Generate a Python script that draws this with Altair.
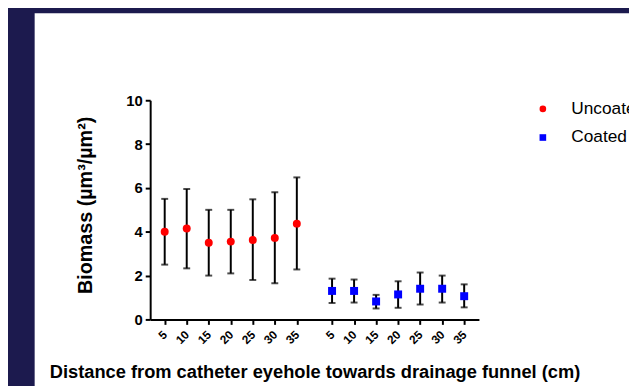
import altair as alt
import pandas as pd

distances = [5, 10, 15, 20, 25, 30, 35]
groups = ["Uncoated", "Coated"]
uncoated_mean = [4.0, 4.15, 3.5, 3.55, 3.62, 3.72, 4.37]
uncoated_upper = [5.5, 5.95, 5.0, 5.0, 5.48, 5.8, 6.48]
uncoated_lower = [2.5, 2.33, 2.0, 2.1, 1.8, 1.65, 2.28]
coated_mean = [1.3, 1.3, 0.82, 1.14, 1.4, 1.4, 1.06]
coated_upper = [1.86, 1.82, 1.12, 1.74, 2.14, 2.0, 1.6]
coated_lower = [0.75, 0.77, 0.5, 0.53, 0.68, 0.77, 0.55]

GROUP_OFFSET = 7.6
rows = []
for gi, (g, m, up, lo) in enumerate([
    ("Uncoated", uncoated_mean, uncoated_upper, uncoated_lower),
    ("Coated", coated_mean, coated_upper, coated_lower),
]):
    for i, d in enumerate(distances):
        rows.append({"group": g, "distance": d, "pos": i + gi * GROUP_OFFSET,
                     "mean": m[i], "upper": up[i], "lower": lo[i]})
df = pd.DataFrame(rows)
positions = list(df["pos"])

FONT = "Liberation Sans"
xscale = alt.Scale(domain=[-0.66, 14.27], nice=False, zero=False)
yscale = alt.Scale(domain=[0, 10], nice=False)

xaxis = alt.Axis(
    values=positions,
    labelExpr="format(datum.value < 7 ? (round(datum.value) + 1) * 5 : (round(datum.value - 7.6) + 1) * 5, 'd')",
    labelAngle=-45, labelAlign="right", labelBaseline="middle",
    labelFontSize=12, labelFontWeight="bold", labelPadding=8,
    labelOverlap=False, labelBound=False, labelFlush=False,
    tickSize=5, tickWidth=2, tickColor="black", domainWidth=2, domainColor="black",
    grid=False, labelColor="black", zindex=1,
    title="Distance from catheter eyehole towards drainage funnel (cm)",
    titleFontSize=18.5, titleFontWeight="bold", titleColor="black",
    titleY=59, titleBaseline="alphabetic",
)
yaxis = alt.Axis(
    values=[0, 2, 4, 6, 8, 10], labelFontSize=15, labelFontWeight="bold",
    labelPadding=3, tickSize=5, tickWidth=2, tickColor="black",
    domainWidth=2, domainColor="black", grid=False, labelColor="black", zindex=1,
    title="Biomass (µm³/µm²)", titleFontSize=20, titleFontWeight="bold",
    titleColor="black", titleX=-65, titleY=106, titleBaseline="middle",
    titleAlign="center", titleAngle=-90,
)

X = alt.X("pos:Q", scale=xscale, axis=xaxis)

base = alt.Chart(df)

panel = alt.Chart(pd.DataFrame({"a": [0]})).mark_rect(color="white").encode(
    x=alt.value(-117), x2=alt.value(500), y=alt.value(-88), y2=alt.value(300)
)

bars = base.mark_rule(color="black", strokeWidth=2).encode(
    x=X,
    y=alt.Y("lower:Q", scale=yscale, axis=yaxis),
    y2="upper:Q",
)
caps_top = base.mark_tick(color="black", orient="horizontal", size=7, thickness=2).encode(
    x=X, y=alt.Y("upper:Q", scale=yscale, axis=yaxis)
)
caps_bot = base.mark_tick(color="black", orient="horizontal", size=7, thickness=2).encode(
    x=X, y=alt.Y("lower:Q", scale=yscale, axis=yaxis)
)
legend = alt.Legend(title=None, orient="none", legendX=389, legendY=0,
                    labelFontSize=17.5, labelFont=FONT, labelColor="black",
                    labelOffset=20, rowPadding=10, symbolSize=45)
points = base.mark_point(filled=True, opacity=1, size=65).encode(
    x=X,
    y=alt.Y("mean:Q", scale=yscale, axis=yaxis),
    color=alt.Color("group:N", scale=alt.Scale(domain=groups, range=["#ff0000", "#0000ff"]),
                    legend=legend),
    shape=alt.Shape("group:N", scale=alt.Scale(domain=groups, range=["circle", "square"]),
                    legend=legend),
)

chart = alt.layer(panel, bars, caps_top, caps_bot, points).properties(
    width=333, height=222,
    autosize=alt.AutoSizeParams(type="none"),
    padding={"left": 144, "top": 91, "right": 152, "bottom": 65},
    background="#1c1a4e",
).configure_view(strokeWidth=0).configure(font=FONT)

chart.save("out.html", embed_options={"renderer": "svg", "actions": False})
